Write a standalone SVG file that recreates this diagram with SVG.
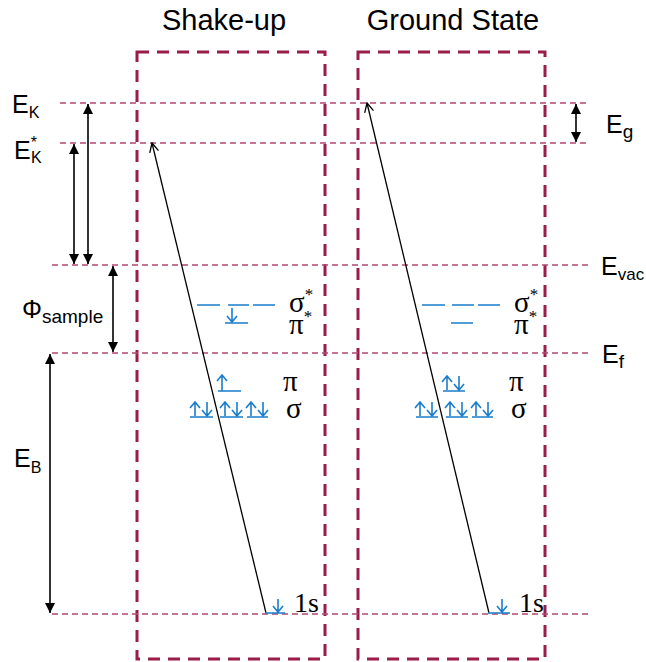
<svg xmlns="http://www.w3.org/2000/svg" width="646" height="662" viewBox="0 0 646 662">
<defs>
<marker id="ah" viewBox="0 0 10 12" refX="10" refY="6" markerWidth="11" markerHeight="12" markerUnits="userSpaceOnUse" orient="auto-start-reverse">
<path d="M0,1 L10,6 L0,11 z" fill="#000"/>
</marker>
<marker id="oh" viewBox="0 0 10 10" refX="9" refY="5" markerWidth="10" markerHeight="10" markerUnits="userSpaceOnUse" orient="auto">
<path d="M0,0.5 L9,5 L0,9.5" fill="none" stroke="#000" stroke-width="1.3"/>
</marker>
</defs>
<style>
.box{fill:none;stroke:#9a1d49;stroke-width:3;stroke-dasharray:12 8}
.lvl{fill:none;stroke:#b04a70;stroke-width:1.5;stroke-dasharray:6 4}
.dim{stroke:#000;stroke-width:1.6;fill:none;marker-start:url(#ah);marker-end:url(#ah)}
.tr{stroke:#000;stroke-width:1.3;fill:none;marker-end:url(#oh)}
.orb{stroke:#1a7ccc;stroke-width:1.6;fill:none}
.t{font-family:"Liberation Sans",Arial,sans-serif;fill:#000}
.g{font-family:"Liberation Serif","Times New Roman",serif;fill:#000}
</style>
<g id="boxes">
<rect class="box" x="137" y="52" width="188" height="607"/>
<rect class="box" x="358" y="52" width="187" height="607"/>
</g>
<g id="levels">
<line class="lvl" x1="60" y1="103" x2="590" y2="103"/>
<line class="lvl" x1="60" y1="143" x2="590" y2="143"/>
<line class="lvl" x1="52" y1="265" x2="592" y2="265"/>
<line class="lvl" x1="52" y1="353" x2="592" y2="353"/>
<line class="lvl" x1="52" y1="614" x2="592" y2="614"/>
</g>
<g id="connectors">
<line class="dim" x1="88" y1="104" x2="88" y2="264"/>
<line class="dim" x1="74" y1="144" x2="74" y2="264"/>
<line class="dim" x1="113" y1="266" x2="113" y2="352"/>
<line class="dim" x1="50" y1="354" x2="50" y2="613"/>
<line class="dim" x1="576" y1="104" x2="576" y2="142"/>
<line class="tr" x1="266" y1="613" x2="152" y2="143"/>
<line class="tr" x1="489" y1="613" x2="367" y2="103"/>
</g>
<g id="labels">
<text class="t" x="224" y="30" font-size="29" text-anchor="middle">Shake-up</text>
<text class="t" x="453" y="30" font-size="29" text-anchor="middle">Ground State</text>
<text class="t" x="12" y="113" font-size="25">E<tspan font-size="16" dy="5">K</tspan></text>
<text class="t" x="14" y="159" font-size="25">E<tspan font-size="16" dy="-11">*</tspan><tspan font-size="16" dx="-6" dy="15">K</tspan></text>
<text class="t" x="22" y="318" font-size="25">Φ<tspan font-size="19" dy="5">sample</tspan></text>
<text class="t" x="14" y="467" font-size="25">E<tspan font-size="16" dy="6">B</tspan></text>
<text class="t" x="606" y="133" font-size="25">E<tspan font-size="19" dy="5">g</tspan></text>
<text class="t" x="601" y="275" font-size="25">E<tspan font-size="17" dy="5">vac</tspan></text>
<text class="t" x="602" y="363" font-size="25">E<tspan font-size="19" dy="5">f</tspan></text>
</g>
<g id="shakeup-orbitals">
<path class="orb" d="M197,305 H220 M228,305 H249 M253,305 H275 M225,323 H248"/>
<path class="orb" d="M232,308 V322 M227,316 L232,322 L237,316"/>
<path class="orb" d="M218,391 H241 M222,391 V375 M217,381 L222,375 L227,381"/>
<path class="orb" d="M190,417 H213 M220,417 H243 M247,417 H268"/>
<path class="orb" d="M195,416 V402 M190,408 L195,402 L200,408 M207,402 V416 M202,410 L207,416 L212,410"/>
<path class="orb" d="M225,416 V402 M220,408 L225,402 L230,408 M237,402 V416 M232,410 L237,416 L242,410"/>
<path class="orb" d="M251,416 V402 M246,408 L251,402 L256,408 M263,402 V416 M258,410 L263,416 L268,410"/>
<path class="orb" d="M265,613 H285 M278,599 V612 M273,606 L278,612 L283,606"/>
<text class="g" font-size="29"><tspan x="289" y="312">σ</tspan><tspan font-size="17" dy="-12">*</tspan><tspan x="289" y="334">π</tspan><tspan font-size="17" dy="-12">*</tspan></text>
<text class="g" font-size="29"><tspan x="283" y="391">π</tspan><tspan x="286" y="418">σ</tspan></text>
<text class="g" x="294" y="612" font-size="28">1s</text>
</g>
<g id="ground-orbitals">
<path class="orb" d="M422,305 H445 M452,305 H474 M478,305 H500 M451,323 H473"/>
<path class="orb" d="M443,391 H465 M447,390 V376 M442,382 L447,376 L452,382 M459,376 V390 M454,384 L459,390 L464,384"/>
<path class="orb" d="M416,417 H438 M446,417 H468 M472,417 H493"/>
<path class="orb" d="M420,416 V402 M415,408 L420,402 L425,408 M432,402 V416 M427,410 L432,416 L437,410"/>
<path class="orb" d="M450,416 V402 M445,408 L450,402 L455,408 M462,402 V416 M457,410 L462,416 L467,410"/>
<path class="orb" d="M476,416 V402 M471,408 L476,402 L481,408 M488,402 V416 M483,410 L488,416 L493,410"/>
<path class="orb" d="M488,613 H510 M502,599 V612 M497,606 L502,612 L507,606"/>
<text class="g" font-size="29"><tspan x="514" y="312">σ</tspan><tspan font-size="17" dy="-12">*</tspan><tspan x="514" y="334">π</tspan><tspan font-size="17" dy="-12">*</tspan></text>
<text class="g" font-size="29"><tspan x="509" y="391">π</tspan><tspan x="511" y="418">σ</tspan></text>
<text class="g" x="519" y="612" font-size="28">1s</text>
</g>
</svg>
